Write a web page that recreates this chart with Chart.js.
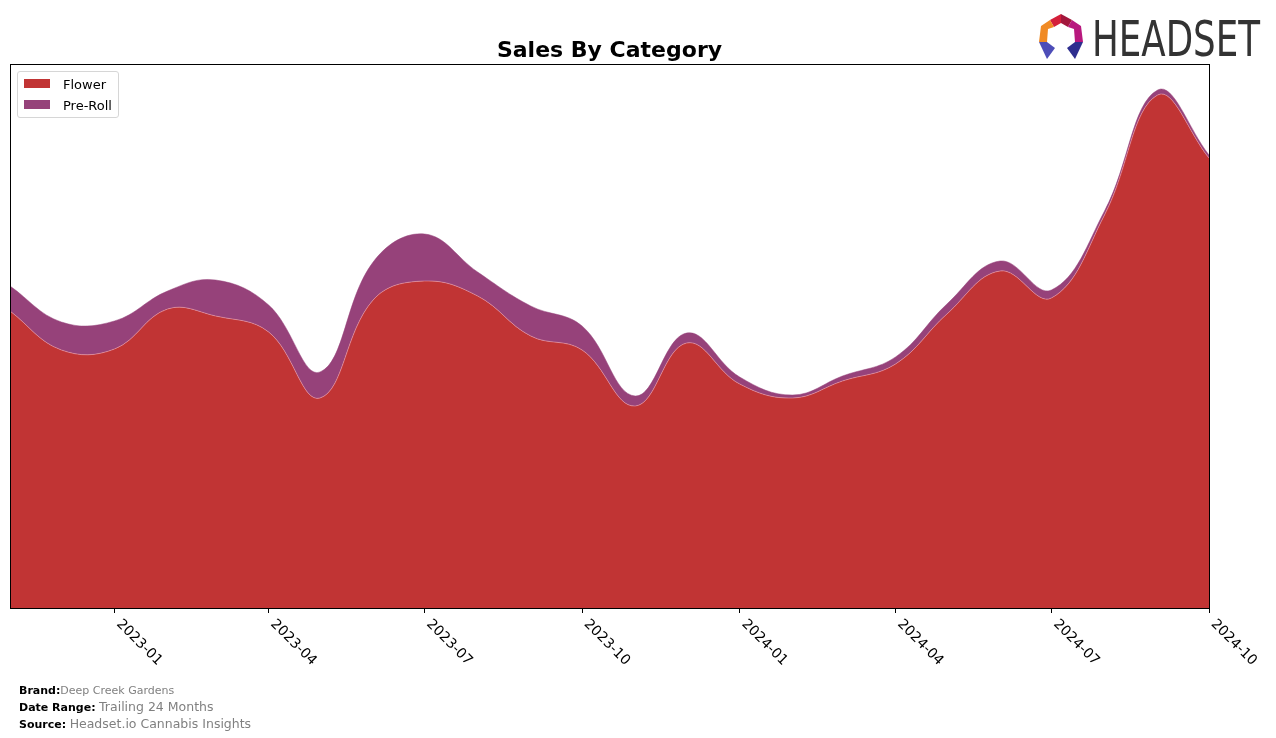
<!DOCTYPE html>
<html>
<head>
<meta charset="utf-8">
<script src="https://cdn.jsdelivr.net/npm/chart.js@4.4.1/dist/chart.umd.min.js"></script>
<style>
  html, body { margin: 0; padding: 0; background: #fff; }
  #wrap { position: relative; width: 1276px; height: 738px; overflow: hidden; font-family: "DejaVu Sans", sans-serif; }
  #chart { position: absolute; left: 0; top: 0; }
  #title { position: absolute; left: 10px; width: 1199px; top: 37px; text-align: center; font-weight: bold; font-size: 22px; line-height: 26px; color: #000; }
  #legend { position: absolute; left: 17px; top: 71px; width: 100px; height: 45px; border: 1px solid #d6d6d6; border-radius: 3px; background: rgba(255,255,255,0.8); font-size: 13px; }
  .li { position: absolute; left: 6px; height: 16px; line-height: 16px; white-space: nowrap; }
  .sw { display: inline-block; width: 26px; height: 9px; vertical-align: middle; margin-right: 13px; position: relative; top: -2px; }
  #footer { position: absolute; left: 19px; top: 683px; font-size: 11px; line-height: 16px; color: #000; }
  #footer b { font-weight: bold; }
  #footer .v { color: #808080; }
  #footer .big { font-size: 12.5px; }
  #logo { position: absolute; left: 1036px; top: 12px; }
</style>
</head>
<body>
<div id="wrap">
  <canvas id="chart" width="1276" height="738"></canvas>
  <div id="title">Sales By Category</div>
  <div id="legend"></div>
  <div id="footer">
    <div><b>Brand:</b><span class="v">Deep Creek Gardens</span></div>
    <div><b>Date Range:</b> <span class="v big">Trailing 24 Months</span></div>
    <div><b>Source:</b> <span class="v big">Headset.io Cannabis Insights</span></div>
  </div>
  <svg id="logo" width="230" height="50" viewBox="0 0 230 50">
    <polygon points="25,2 36,8 32,15 25,11" fill="#a3173c"/>
    <polygon points="25,2 14,8 18,15 25,11" fill="#d41f3a"/>
    <polygon points="14,8 5,14 3,30 11,30 12,17 18,15" fill="#f08a24"/>
    <polygon points="36,8 45,14 47,30 39,30 38,17 32,15" fill="#b8187e"/>
    <polygon points="3,30 11,30 19,36 11,47" fill="#4d4db8"/>
    <polygon points="47,30 39,30 31,36 39,47" fill="#2e2e8f"/>
    <text x="56" y="44" font-family="'Liberation Sans Narrow','DejaVu Sans Condensed','Liberation Sans',sans-serif" font-size="50" fill="#333" textLength="168" lengthAdjust="spacingAndGlyphs">HEADSET</text>
  </svg>
</div>
<script>
// monthly points, first of each month
const months = ['2022-11-01','2022-12-01','2023-01-01','2023-02-01','2023-03-01','2023-04-01',
  '2023-05-01','2023-06-01','2023-07-01','2023-08-01','2023-09-01','2023-10-01',
  '2023-11-01','2023-12-01','2024-01-01','2024-02-01','2024-03-01','2024-04-01',
  '2024-05-01','2024-06-01','2024-07-01','2024-08-01','2024-09-01','2024-10-01'];
const flower = [297, 258, 259, 299, 292, 276, 210, 308, 327, 312, 272, 258,
  202, 265, 224, 210, 227, 244, 294, 337, 310, 393, 513, 450];
const preRoll = [25, 28, 28, 18, 36, 27, 26, 38, 47, 24, 30, 24,
  10, 10, 7, 3, 5, 7, 10, 10, 8, 4, 5, 3];
const tickLabels = ['2023-01','2023-04','2023-07','2023-10','2024-01','2024-04','2024-07','2024-10'];

const FLOWER_COLOR = '#c13434';
const PREROLL_COLOR = '#96427a';

const toTime = s => Date.parse(s.length === 7 ? s + '-01T00:00:00Z' : s + 'T00:00:00Z');
const xs = months.map(toTime);
const tickTimes = tickLabels.map(toTime);

// legend
const legendItems = [['Flower', FLOWER_COLOR], ['Pre-Roll', PREROLL_COLOR]];
const legend = document.getElementById('legend');
legendItems.forEach((it, i) => {
  const d = document.createElement('div');
  d.className = 'li';
  d.style.top = (5 + i * 21) + 'px';
  d.innerHTML = '<span class="sw" style="background:' + it[1] + '"></span>' + it[0];
  legend.appendChild(d);
});

// frame + rotated tick labels (matplotlib style, hanging down to the right)
const framePlugin = {
  id: 'frame',
  afterDraw(chart) {
    const { ctx, chartArea: a } = chart;
    const sx = chart.scales.x;
    ctx.save();
    ctx.strokeStyle = '#000';
    ctx.lineWidth = 1;
    ctx.strokeRect(Math.round(a.left) + 0.5, Math.round(a.top) + 0.5, Math.round(a.right - a.left), Math.round(a.bottom - a.top));
    ctx.fillStyle = '#000';
    ctx.font = '14px "DejaVu Sans"';
    ctx.textAlign = 'left';
    ctx.textBaseline = 'top';
    sx.ticks.forEach(t => {
      const px = sx.getPixelForValue(t.value);
      ctx.save();
      ctx.translate(px + 9, a.bottom + 9);
      ctx.rotate(Math.PI / 4);
      ctx.fillText(t.label, 0, 0);
      ctx.restore();
    });
    ctx.restore();
  }
};

new Chart(document.getElementById('chart'), {
  type: 'line',
  data: {
    datasets: [
      {
        label: 'Flower',
        data: xs.map((x, i) => ({ x: x, y: flower[i] })),
        backgroundColor: FLOWER_COLOR,
        borderColor: 'rgba(235,160,180,0.55)',
        borderWidth: 1,
        fill: 'origin',
        pointRadius: 0,
        tension: 0.4
      },
      {
        label: 'Pre-Roll',
        data: xs.map((x, i) => ({ x: x, y: preRoll[i] })),
        backgroundColor: PREROLL_COLOR,
        borderColor: PREROLL_COLOR,
        borderWidth: 0.5,
        fill: '-1',
        pointRadius: 0,
        tension: 0.4
      }
    ]
  },
  options: {
    responsive: false,
    animation: false,
    layout: { padding: { left: 10, top: 64, right: 67, bottom: 125 } },
    plugins: {
      legend: { display: false },
      title: { display: false },
      tooltip: { enabled: false }
    },
    scales: {
      x: {
        type: 'linear',
        min: xs[0],
        max: xs[xs.length - 1],
        afterBuildTicks: scale => {
          scale.ticks = tickTimes.map(v => ({ value: v }));
        },
        ticks: {
          display: false,
          callback: v => {
            const i = tickTimes.indexOf(v);
            return i >= 0 ? tickLabels[i] : '';
          }
        },
        grid: { display: true, drawOnChartArea: false, drawTicks: true, tickLength: 5, color: '#000' },
        border: { display: false }
      },
      y: {
        display: false,
        stacked: true,
        min: 0,
        max: 544
      }
    }
  },
  plugins: [framePlugin]
});
</script>
</body>
</html>
